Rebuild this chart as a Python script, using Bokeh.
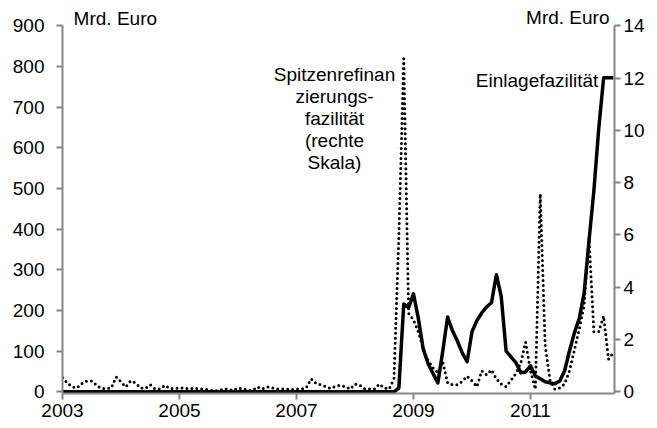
from bokeh.plotting import figure
from bokeh.models import Range1d, LinearAxis, FixedTicker, Label
from bokeh.embed import file_html
from bokeh.resources import INLINE

# ---------------- data (monthly, Jan 2003 .. Jun 2012) ----------------
START_YEAR = 2003

# Einlagefazilität, Mrd. Euro (left scale)
einlagefazilitaet = [
    0, 0, 0, 0, 0, 0, 0, 0, 0, 0, 0, 0,          # 2003
    0, 0, 0, 0, 0, 0, 0, 0, 0, 0, 0, 0,          # 2004
    0, 0, 0, 0, 0, 0, 0, 0, 0, 0, 0, 0,          # 2005
    0, 0, 0, 0, 0, 0, 0, 0, 0, 0, 0, 0,          # 2006
    0, 0, 0, 0, 0, 0, 0, 0, 0, 0, 0, 0,          # 2007
    0, 0, 0, 0, 0, 0, 0, 0, 0, 10, 216, 207,     # 2008
    241, 180, 105, 69, 45, 22, 100, 184, 150, 125, 96, 74,     # 2009
    148, 175, 194, 209, 219, 288, 234, 100, 86, 72, 47, 49,    # 2010
    64, 39, 32, 25, 22, 20, 27, 52, 101, 145, 180, 243,        # 2011
    371, 494, 647, 772, 772, 772,                              # 2012
]

# Spitzenrefinanzierungsfazilität, Mrd. Euro (right scale)
spitzenrefinanzierung = [
    0.54, 0.34, 0.19, 0.15, 0.32, 0.42, 0.42, 0.25, 0.13, 0.13, 0.15, 0.57,   # 2003
    0.38, 0.19, 0.42, 0.34, 0.15, 0.13, 0.27, 0.11, 0.11, 0.25, 0.13, 0.13,   # 2004
    0.15, 0.15, 0.11, 0.15, 0.11, 0.11, 0.08, 0.04, 0.04, 0.11, 0.11, 0.05,   # 2005
    0.15, 0.11, 0.08, 0.05, 0.19, 0.11, 0.19, 0.15, 0.11, 0.11, 0.11, 0.08,   # 2006
    0.11, 0.11, 0.15, 0.50, 0.32, 0.27, 0.20, 0.13, 0.22, 0.25, 0.20, 0.11,   # 2007
    0.30, 0.25, 0.11, 0.11, 0.11, 0.30, 0.15, 0.11, 0.50, 6.00, 12.74, 3.00,  # 2008
    2.75, 2.30, 1.65, 1.20, 0.92, 0.73, 1.15, 0.34, 0.27, 0.27, 0.40, 0.60,   # 2009
    0.42, 0.20, 0.80, 0.65, 0.84, 0.50, 0.30, 0.20, 0.45, 0.70, 1.10, 1.90,   # 2010
    0.80, 0.10, 7.57, 1.80, 0.45, 0.10, 0.15, 0.30, 0.80, 1.60, 2.40, 3.30,   # 2011
    5.90, 2.30, 2.30, 2.90, 1.25, 1.50,                                       # 2012
]

x_tick_years = [2003, 2005, 2007, 2009, 2011]
left_ticks = [0, 100, 200, 300, 400, 500, 600, 700, 800, 900]
right_ticks = [0, 2, 4, 6, 8, 10, 12, 14]

months = [START_YEAR + i / 12 for i in range(len(einlagefazilitaet))]

# ---------------- styling ----------------
FONT = "Liberation Sans"
FSIZE = "19px"
GREY = "#868686"
LEFT_MAX = 900
RIGHT_MAX = 14
LEFT_MIN = -4
LEFT_TOP = 962          # room above the axis for the unit labels
RATIO = RIGHT_MAX / LEFT_MAX

p = figure(
    width=657, height=428,
    output_backend="svg", toolbar_location=None,
    x_range=Range1d(2003, 2012.436),
    y_range=Range1d(LEFT_MIN, LEFT_TOP),
    min_border_left=62, min_border_right=43, min_border_top=0, min_border_bottom=35,
)
p.extra_y_ranges = {"right": Range1d(LEFT_MIN * RATIO, LEFT_TOP * RATIO)}
p.xgrid.visible = False
p.ygrid.visible = False
p.outline_line_color = None
p.background_fill_color = "white"
p.border_fill_color = "white"


def style_axis(ax, standoff):
    ax.axis_line_color = GREY
    ax.axis_line_width = 2
    ax.major_tick_line_color = GREY
    ax.major_tick_line_width = 2
    ax.major_tick_out = 6
    ax.major_tick_in = 0
    ax.minor_tick_line_color = None
    ax.major_label_text_font = FONT
    ax.major_label_text_font_size = FSIZE
    ax.major_label_text_color = "black"
    ax.major_label_standoff = standoff


p.xaxis[0].ticker = FixedTicker(ticks=x_tick_years)
style_axis(p.xaxis[0], 4)
p.yaxis[0].ticker = FixedTicker(ticks=left_ticks)
p.yaxis[0].bounds = (LEFT_MIN, LEFT_MAX)
style_axis(p.yaxis[0], 12)

right_axis = LinearAxis(y_range_name="right", ticker=FixedTicker(ticks=right_ticks),
                        bounds=(LEFT_MIN * RATIO, RIGHT_MAX))
style_axis(right_axis, 3)
p.add_layout(right_axis, "right")

# dotted series (right scale)
p.line(months, spitzenrefinanzierung, y_range_name="right",
       line_color="black", line_width=3, line_dash="0 5", line_cap="round")
# solid series (left scale)
p.line(months, einlagefazilitaet, line_color="black", line_width=3.5, line_join="round")

# ---------------- texts ----------------
def add_label(x, y, text, align):
    p.add_layout(Label(x=x, y=y, text=text, text_align=align, text_baseline="middle",
                       text_font=FONT, text_font_size=FSIZE, text_color="black"))


add_label(2003.19, 917, "Mrd. Euro", "left")
add_label(2012.35, 920, "Mrd. Euro", "right")
add_label(2012.16, 765, "Einlagefazilität", "right")

spitzen_lines = ["Spitzenrefinan", "zierungs-", "fazilität", "(rechte", "Skala)"]
spitzen_y = [779, 725, 671, 617, 563]
for txt, yy in zip(spitzen_lines, spitzen_y):
    add_label(2007.65, yy, txt, "center")

open("out.html", "w").write(file_html(p, INLINE))
